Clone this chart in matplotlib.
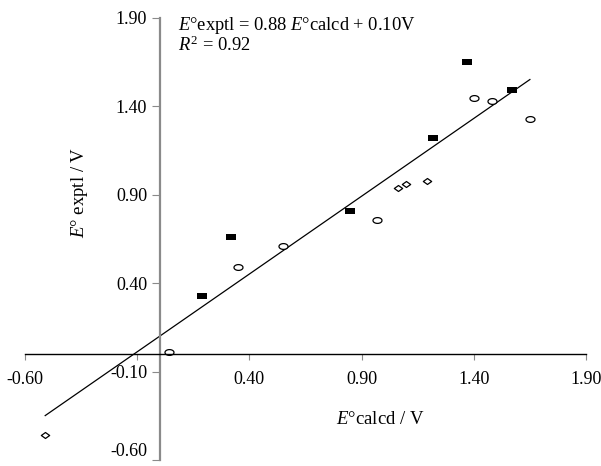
import matplotlib
matplotlib.use('Agg')
import matplotlib.pyplot as plt
import numpy as np
from matplotlib.path import Path

plt.rcParams['font.family'] = ['Liberation Serif', 'DejaVu Serif']
plt.rcParams['mathtext.fontset'] = 'custom'
plt.rcParams['mathtext.rm'] = 'Liberation Serif'
plt.rcParams['mathtext.it'] = 'Liberation Serif:italic'

# filled squares
sq_calc = [0.19, 0.32, 0.85, 1.22, 1.37, 1.57]
sq_expt = [0.33, 0.66, 0.81, 1.22, 1.65, 1.49]
# open circles
ci_calc = [0.04, 0.35, 0.55, 0.97, 1.40, 1.48, 1.65]
ci_expt = [0.01, 0.49, 0.61, 0.76, 1.45, 1.43, 1.33]
# open diamonds
di_calc = [1.06, 1.10, 1.19, -0.51]
di_expt = [0.94, 0.96, 0.98, -0.46]

slope, intercept = 0.88, 0.10
fit_x = [-0.51, 1.65]

ticks = [-0.60, -0.10, 0.40, 0.90, 1.40, 1.90]

rect = Path([(-0.7, -0.45), (0.7, -0.45), (0.7, 0.45), (-0.7, 0.45), (-0.7, -0.45)],
            [Path.MOVETO, Path.LINETO, Path.LINETO, Path.LINETO, Path.CLOSEPOLY])
t = np.linspace(0, 2 * np.pi, 40)
ell = Path(np.column_stack([0.7 * np.cos(t), 0.45 * np.sin(t)]))
dia = Path([(0, -0.5), (0.7, 0), (0, 0.5), (-0.7, 0), (0, -0.5)],
           [Path.MOVETO, Path.LINETO, Path.LINETO, Path.LINETO, Path.CLOSEPOLY])

fig = plt.figure(figsize=(6.01, 4.66), dpi=100)
ax = fig.add_axes([25 / 601, 6 / 466, 561 / 601, 442 / 466])

fx = np.array(fit_x)
ax.plot(fx, slope * fx + intercept, color='black', lw=0.9)

ax.plot(sq_calc, sq_expt, linestyle='none', marker=rect, markersize=7.5,
        color='black', markeredgewidth=0)
ax.plot(ci_calc, ci_expt, linestyle='none', marker=ell, markersize=6.5,
        markerfacecolor='white', markeredgecolor='black', markeredgewidth=0.9)
ax.plot(di_calc, di_expt, linestyle='none', marker=dia, markersize=6,
        markerfacecolor='white', markeredgecolor='black', markeredgewidth=0.9)

ax.set_xlim(-0.60, 1.90)
ax.set_ylim(-0.60, 1.90)
ax.spines['left'].set_position(('data', 0))
ax.spines['bottom'].set_position(('data', 0))
ax.spines['right'].set_visible(False)
ax.spines['top'].set_visible(False)
ax.spines['left'].set_color('#8a8a8a')
ax.spines['left'].set_linewidth(1.6)
ax.spines['bottom'].set_color('black')
ax.spines['bottom'].set_linewidth(1.0)

ax.set_xticks(ticks)
ax.set_xticklabels(['' if v == -0.10 else f'{v:.2f}' for v in ticks])
ax.set_yticks(ticks)
ax.set_yticklabels([f'{v:.2f}' for v in ticks])
ax.tick_params(axis='x', direction='out', length=4, width=0.8, color='#8a8a8a',
               pad=8, labelsize=13)
ax.tick_params(axis='y', direction='out', length=6, width=0.8, color='#8a8a8a',
               pad=3, labelsize=13)
ax.get_yticklabels()[0].set_va('bottom')
ax.patch.set_visible(False)

ax.text(178 / 601, 1 - 30 / 466,
        r'$E$°exptl = 0.88 $E$°calcd + 0.10V',
        transform=fig.transFigure, fontsize=13.3, va='baseline', ha='left')
ax.text(178 / 601, 1 - 51 / 466, r'$R^2$ = 0.92',
        transform=fig.transFigure, fontsize=13.3, va='baseline', ha='left')

fig.text(80 / 601, 1 - 192 / 466, r'$E$° exptl / V', rotation=90,
         fontsize=13.5, ha='center', va='center')
fig.text(380 / 601, 1 - 420 / 466, r'$E$°calcd / V',
         fontsize=13.5, ha='center', va='center')

fig.savefig('out.png', dpi=100)
